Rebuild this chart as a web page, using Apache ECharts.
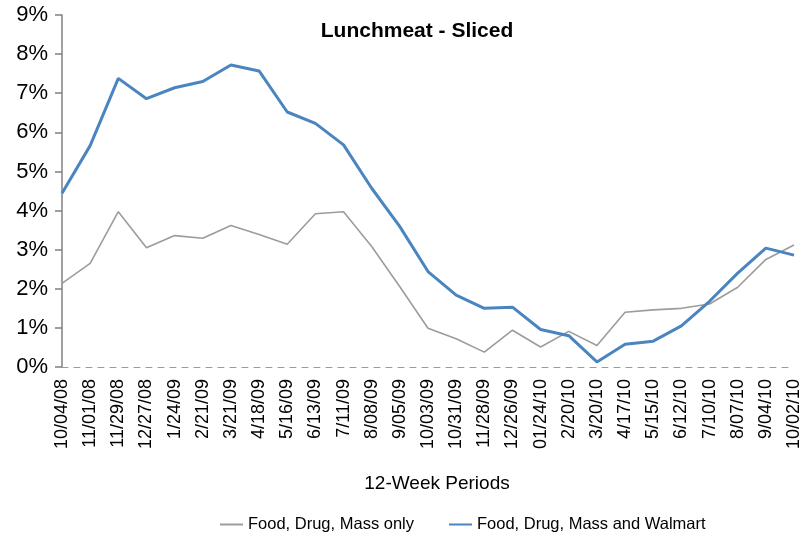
<!DOCTYPE html>
<html>
<head>
<meta charset="utf-8">
<script src="https://cdn.jsdelivr.net/npm/echarts@6/dist/echarts.min.js"></script>
<style>html,body{margin:0;padding:0;background:#fff}#c{width:811px;height:539px}</style>
</head>
<body>
<div id="c"></div>
<script>
var categories = ['10/04/08','11/01/08','11/29/08','12/27/08','1/24/09','2/21/09','3/21/09','4/18/09','5/16/09','6/13/09','7/11/09','8/08/09','9/05/09','10/03/09','10/31/09','11/28/09','12/26/09','01/24/10','2/20/10','3/20/10','4/17/10','5/15/10','6/12/10','7/10/10','8/07/10','9/04/10','10/02/10'];
var fdmOnly = [2.14,2.65,3.97,3.05,3.36,3.29,3.62,3.39,3.14,3.92,3.97,3.08,2.05,0.99,0.72,0.38,0.94,0.51,0.91,0.55,1.40,1.46,1.50,1.61,2.04,2.75,3.12];
var fdmWalmart = [4.44,5.66,7.38,6.86,7.14,7.30,7.72,7.57,6.52,6.23,5.68,4.57,3.59,2.44,1.84,1.50,1.53,0.96,0.80,0.13,0.58,0.66,1.05,1.68,2.40,3.04,2.86];
var yTicks = [0,1,2,3,4,5,6,7,8,9];

var FONT = "'Liberation Sans',Arial,sans-serif";
var chart = echarts.init(document.getElementById('c'));
chart.setOption({
  animation: false,
  backgroundColor: '#fff',
  title: {
    text: 'Lunchmeat - Sliced',
    left: 412, top: 16, textAlign: 'center',
    textStyle: {fontFamily: FONT, fontSize: 21, fontWeight: 'bold', color: '#000'}
  },
  legend: {
    left: 215, top: 511,
    itemWidth: 23, itemHeight: 2, itemGap: 35,
    icon: 'rect',
    textStyle: {fontFamily: FONT, fontSize: 16.5, color: '#000'},
    data: ['Food, Drug, Mass only', 'Food, Drug, Mass and Walmart']
  },
  grid: {left: 62, right: 17, top: 15, bottom: 172, containLabel: false},
  xAxis: {
    type: 'category',
    data: categories,
    boundaryGap: false,
    name: '12-Week Periods',
    nameLocation: 'middle',
    nameGap: 107,
    nameTextStyle: {fontFamily: FONT, fontSize: 19, color: '#000', padding: [0, 0, 0, 18]},
    axisLine: {show: true, lineStyle: {color: '#999', type: [6, 6], width: 1}},
    axisTick: {show: false},
    axisLabel: {rotate: 90, margin: 12, interval: 0, fontFamily: FONT, fontSize: 18, color: '#000'}
  },
  yAxis: {
    type: 'value',
    min: yTicks[0], max: yTicks[yTicks.length - 1], interval: 1,
    axisLine: {show: true, lineStyle: {color: '#808080', width: 1.5}},
    axisTick: {show: true, inside: false, length: 7, lineStyle: {color: '#808080', width: 1.5}},
    splitLine: {show: false},
    axisLabel: {formatter: '{value}%', margin: 14, fontFamily: FONT, fontSize: 22, color: '#000'}
  },
  series: [
    {
      name: 'Food, Drug, Mass only', type: 'line', data: fdmOnly,
      symbol: 'none', color: '#9C9C9C',
      lineStyle: {color: '#9C9C9C', width: 1.6}
    },
    {
      name: 'Food, Drug, Mass and Walmart', type: 'line', data: fdmWalmart,
      symbol: 'none', color: '#4A85C0',
      lineStyle: {color: '#4A85C0', width: 3}
    }
  ]
});
</script>
</body>
</html>
